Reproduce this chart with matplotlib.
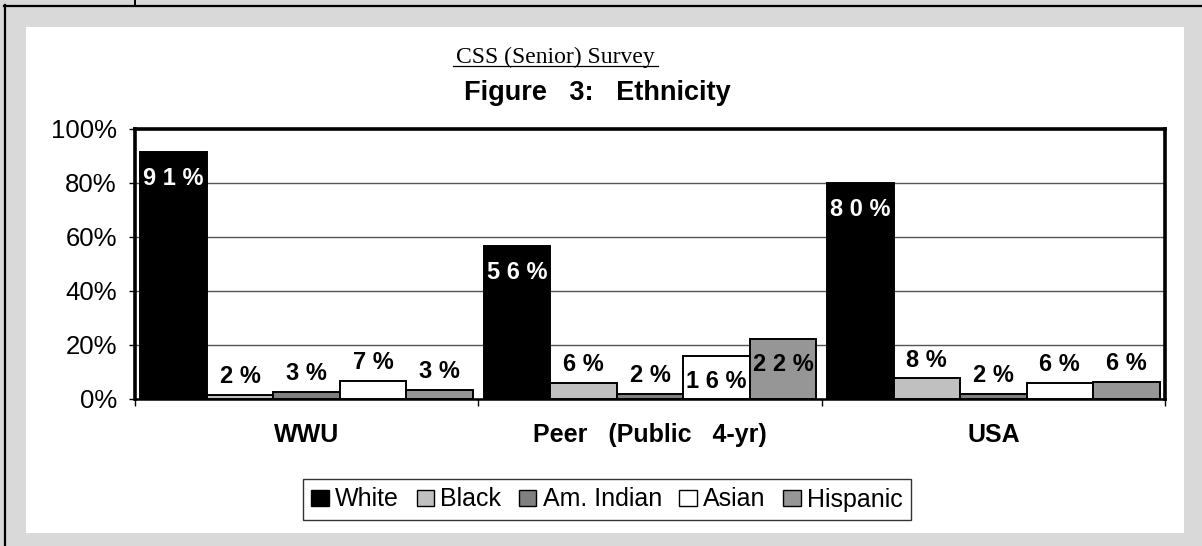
import matplotlib
matplotlib.use("Agg")
import matplotlib.pyplot as plt
import numpy as np
from matplotlib.patches import Patch, Rectangle
from matplotlib.lines import Line2D

# ---- data ----
categories = ["WWU", "Peer   (Public   4-yr)", "USA"]
series = ["White", "Black", "Am. Indian", "Asian", "Hispanic"]
white = [91.4, 56.5, 79.9]
black = [1.6, 5.8, 7.6]
am_indian = [2.6, 1.7, 1.7]
asian = [6.7, 16.1, 5.8]
hispanic = [3.2, 22.4, 6.4]
yticks = [0, 20, 40, 60, 80, 100]
ytick_labels = ["0%", "20%", "40%", "60%", "80%", "100%"]
colors = ["#000000", "#c0c0c0", "#808080", "#ffffff", "#969696"]

W, H = 1202, 546
fig = plt.figure(figsize=(W / 100, H / 100), dpi=100)
fig.patch.set_facecolor("#d9d9d9")
plt.rcParams["font.family"] = ["Liberation Sans", "DejaVu Sans"]

def fx(px):
    return px / W

def fy(py):
    return (H - py) / H

# white panel
fig.add_artist(Rectangle((fx(26), fy(533)), fx(1184) - fx(26), fy(27) - fy(533),
                         transform=fig.transFigure, facecolor="white", edgecolor="none", zorder=0))
# outer black lines
fig.add_artist(Line2D([fx(5), fx(5)], [fy(5), fy(546)], transform=fig.transFigure, color="black", lw=1.6))
fig.add_artist(Line2D([fx(4), fx(1202)], [fy(6), fy(6)], transform=fig.transFigure, color="black", lw=1.6))
fig.add_artist(Line2D([fx(135), fx(135)], [fy(0), fy(6)], transform=fig.transFigure, color="black", lw=1.4))

ax = fig.add_axes([fx(135), fy(399), fx(1165) - fx(135), fy(129) - fy(399)])
ax.set_facecolor("white")

data = [white, black, am_indian, asian, hispanic]
x = np.arange(len(categories))
bw = 0.1937
for i, (vals, col) in enumerate(zip(data, colors)):
    xs = x + (i - 2) * bw
    ax.bar(xs, vals, width=bw, color=col, edgecolor="black", linewidth=1.4, zorder=3)
    for xi, v in zip(xs, vals):
        lab = " ".join(f"{round(v)}%")
        if v >= 10:
            tc = "white" if col == "#000000" else "black"
            ax.annotate(lab, (xi, v), xytext=(0, -19), textcoords="offset points",
                        ha="center", va="center", color=tc, fontsize=17, fontweight="bold", zorder=5)
        else:
            ax.annotate(lab, (xi, v), xytext=(0, 5), textcoords="offset points",
                        ha="center", va="bottom", color="black", fontsize=17, fontweight="bold", zorder=5)

ax.set_xlim(-0.5, 2.5)
ax.set_ylim(0, 100)
ax.set_yticks(yticks)
ax.set_yticklabels(ytick_labels, fontsize=18.5)
ax.tick_params(axis="y", direction="out", length=4, width=1, pad=9)
ax.set_xticks(x)
ax.set_xticklabels(categories, fontsize=18, fontweight="bold")
ax.tick_params(axis="x", which="major", length=0, pad=17.5)
ax.set_xticks([-0.5, 0.5, 1.5, 2.5], minor=True)
ax.tick_params(axis="x", which="minor", direction="out", length=5, width=1)
ax.set_axisbelow(True)
ax.yaxis.grid(True, color="#555555", linewidth=1.0)
for s in ["top", "left", "right"]:
    ax.spines[s].set_linewidth(2.6)
ax.spines["bottom"].set_linewidth(1.8)

# titles
fig.text(fx(555), fy(63), "CSS (Senior) Survey", ha="center", va="baseline",
         fontsize=17, family="Liberation Serif")
fig.add_artist(Line2D([fx(453), fx(658)], [fy(66), fy(66)], transform=fig.transFigure, color="black", lw=0.9))
fig.text(fx(597), fy(100), "Figure   3:   Ethnicity", ha="center", va="baseline",
         fontsize=19.5, fontweight="bold")

handles = [Patch(facecolor=c, edgecolor="black", linewidth=1.0) for c in colors]
leg = fig.legend(handles, series, loc="center", bbox_to_anchor=(fx(607), fy(499.5)),
                 ncol=5, fontsize=18, frameon=True, fancybox=False, handlelength=0.7,
                 handleheight=0.6, handletextpad=0.25, columnspacing=0.7, borderpad=0.35,
                 borderaxespad=0)
leg.get_frame().set_edgecolor("black")
leg.get_frame().set_linewidth(1.0)

fig.savefig("out.png", dpi=100, facecolor=fig.get_facecolor())
